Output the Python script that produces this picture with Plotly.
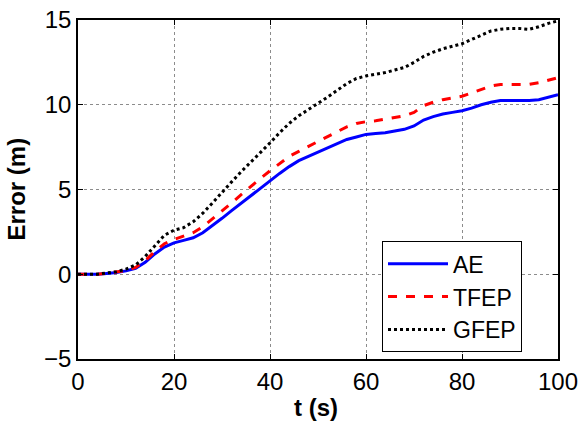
import plotly.graph_objects as go

t = [0, 2, 4, 6, 8, 10, 12, 14, 16, 18, 20, 22, 24, 26, 28, 30, 32, 34, 36, 38, 40,
     42, 44, 46, 48, 50, 52, 54, 56, 58, 60, 62, 64, 66, 68, 70, 72, 74, 76, 78, 80,
     82, 84, 86, 88, 90, 92, 94, 96, 98, 100]

ae = [0, 0, 0, 0.05, 0.1, 0.2, 0.35, 0.7, 1.2, 1.6, 1.85, 2.0, 2.15, 2.45, 2.85, 3.3,
      3.75, 4.2, 4.6, 5.1, 5.55, 5.95, 6.35, 6.7, 6.95, 7.2, 7.45, 7.7, 7.95, 8.1, 8.25,
      8.3, 8.35, 8.45, 8.55, 8.75, 9.1, 9.3, 9.45, 9.55, 9.65, 9.8, 10.0, 10.15, 10.25,
      10.25, 10.25, 10.25, 10.3, 10.45, 10.6]

tfep = [0, 0, 0, 0.05, 0.12, 0.22, 0.4, 0.8, 1.35, 1.8, 2.05, 2.25, 2.45, 2.8, 3.25, 3.7,
        4.2, 4.7, 5.2, 5.65, 6.1, 6.55, 6.95, 7.25, 7.55, 7.8, 8.1, 8.4, 8.7, 8.9, 9.0,
        9.05, 9.15, 9.25, 9.35, 9.55, 9.95, 10.15, 10.3, 10.4, 10.5, 10.7, 10.9, 11.1,
        11.2, 11.2, 11.2, 11.2, 11.3, 11.45, 11.6]

gfep = [0, 0, 0, 0.08, 0.15, 0.3, 0.55, 1.05, 1.7, 2.3, 2.6, 2.75, 3.1, 3.6, 4.2, 4.85,
        5.45, 6.05, 6.6, 7.2, 7.75, 8.35, 8.9, 9.35, 9.7, 10.05, 10.45, 10.85, 11.25,
        11.55, 11.7, 11.8, 11.9, 12.05, 12.2, 12.5, 12.85, 13.1, 13.3, 13.45, 13.6,
        13.85, 14.1, 14.35, 14.45, 14.5, 14.5, 14.45, 14.6, 14.8, 14.95]

x_ticks = [0, 20, 40, 60, 80, 100]
y_ticks = [-5, 0, 5, 10, 15]
x_title = "<b>t (s)</b>"
y_title = "<b>Error (m)</b>"

FONT = "Arial, Liberation Sans, sans-serif"

fig = go.Figure()
fig.add_trace(go.Scatter(x=t, y=ae, mode="lines", name="AE",
                         line=dict(color="#0000FF", width=3)))
fig.add_trace(go.Scatter(x=t, y=tfep, mode="lines", name="TFEP",
                         line=dict(color="#FF0000", width=3, dash="dash")))
fig.add_trace(go.Scatter(x=t, y=gfep, mode="lines", name="GFEP",
                         line=dict(color="#000000", width=3, dash="dot")))

axis_common = dict(
    showline=True, linecolor="black", linewidth=1.5, mirror="ticks",
    ticks="inside", ticklen=5, tickcolor="black",
    showgrid=True, gridcolor="#8c8c8c", griddash="dot", gridwidth=1,
    zeroline=False, automargin=False, ticklabeloverflow="allow",
    tickfont=dict(family=FONT, size=24, color="black"),
)

fig.update_layout(
    width=582, height=421,
    margin=dict(l=78, r=24, t=20, b=62),
    paper_bgcolor="white", plot_bgcolor="white",
    font=dict(family=FONT, color="black"),
    xaxis=dict(range=[0, 100], tickvals=x_ticks, **axis_common),
    yaxis=dict(range=[-5, 15], tickvals=y_ticks, **axis_common),
    legend=dict(x=0.925, y=0.02, xanchor="right", yanchor="bottom",
                bordercolor="black", borderwidth=1, bgcolor="white",
                font=dict(size=23, family=FONT),
                itemwidth=60, tracegroupgap=0),
    showlegend=True,
    annotations=[
        dict(text=x_title, xref="paper", yref="paper", x=0.496, y=0,
             xanchor="center", yanchor="top", yshift=-33, showarrow=False,
             font=dict(size=24, family=FONT, color="black")),
        dict(text=y_title, xref="paper", yref="paper", x=0, y=0.5,
             xanchor="center", yanchor="middle", xshift=-62, textangle=-90,
             showarrow=False, font=dict(size=24, family=FONT, color="black")),
    ],
)

fig.write_html("out.html", config={"displayModeBar": False},
               post_script="document.body.style.margin='0px';")
